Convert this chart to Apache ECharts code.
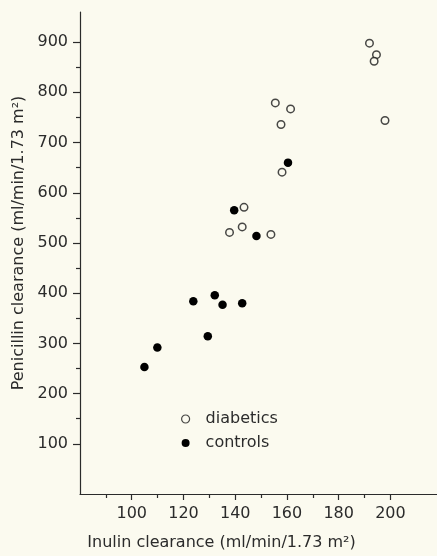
<!DOCTYPE html>
<html>
<head>
<meta charset="utf-8">
<script src="https://cdn.jsdelivr.net/npm/echarts@6/dist/echarts.min.js"></script>
<style>
html, body { margin: 0; padding: 0; background: #fbfaef; }
#main { width: 437px; height: 556px; }
</style>
</head>
<body>
<div id="main"></div>
<script>
// inulin clearance (x) vs penicillin clearance (y), ml/min/1.73 m2
var diabetics = [
	[191.9, 898], [194.6, 875], [193.7, 862],
	[155.5, 779], [161.4, 767], [157.7, 736], [197.9, 744],
	[158.1, 641], [143.4, 571], [142.7, 532], [137.8, 521], [153.8, 517]
];
var controls = [
	[160.4, 660], [139.6, 565], [148.2, 514],
	[123.8, 384], [132.1, 396], [135.1, 377], [142.7, 380],
	[129.4, 314], [109.9, 292], [104.9, 253]
];
var xMajor = [100, 120, 140, 160, 180, 200];
var xMinor = [90, 110, 130, 150, 170, 190];
var yMajor = [100, 200, 300, 400, 500, 600, 700, 800, 900];
var yMinor = [150, 250, 350, 450, 550, 650, 750, 850];

var ink = '#2b2b2b';
var font = 'DejaVu Sans';

var myChart = echarts.init(document.getElementById('main'));

myChart.setOption({
	backgroundColor : '#fbfaef',
	animation : false,
	textStyle : { fontFamily : font, color : ink },
	grid : { left : 80, right : 0, top : 12, bottom : 58 },
	legend : {
		orient : 'vertical',
		left : 176,
		top : 406,
		itemWidth : 8,
		itemHeight : 8,
		itemGap : 8,
		textStyle : { fontFamily : font, fontSize : 16, color : ink, lineHeight : 16, padding : [ 0, 0, 0, 11 ] },
		data : [
			{ name : 'diabetics', itemStyle : { borderWidth : 1.2 } },
			{ name : 'controls' }
		]
	},
	xAxis : [ {
		type : 'value',
		min : 80,
		max : 218,
		name : 'Inulin clearance (ml/min/1.73 m²)',
		nameLocation : 'middle',
		nameGap : 41,
		nameTextStyle : { fontFamily : font, fontSize : 16, color : ink, padding : [ 0, 74, 0, 0 ] },
		axisLine : { lineStyle : { color : ink, width : 1.2 } },
		axisTick : { length : 6, customValues : xMajor, lineStyle : { color : ink, width : 1.2 } },
		axisLabel : { customValues : xMajor, margin : 12, fontFamily : font, fontSize : 16, color : ink },
		splitLine : { show : false }
	}, {
		type : 'value',
		position : 'bottom',
		min : 80,
		max : 218,
		axisLine : { show : false },
		axisTick : { length : 4, customValues : xMinor, lineStyle : { color : ink, width : 1.2 } },
		axisLabel : { show : false },
		splitLine : { show : false }
	} ],
	yAxis : [ {
		type : 'value',
		min : 0,
		max : 960,
		name : 'Penicillin clearance (ml/min/1.73 m²)',
		nameLocation : 'middle',
		nameGap : 53,
		nameTextStyle : { fontFamily : font, fontSize : 16, color : ink, padding : [ 0, 0, 0, 20 ] },
		axisLine : { lineStyle : { color : ink, width : 1.2 } },
		axisTick : { length : 7, customValues : yMajor, lineStyle : { color : ink, width : 1.2 } },
		axisLabel : { customValues : yMajor, margin : 12, fontFamily : font, fontSize : 16, color : ink },
		splitLine : { show : false }
	}, {
		type : 'value',
		position : 'left',
		min : 0,
		max : 960,
		axisLine : { show : false },
		axisTick : { length : 4, customValues : yMinor, lineStyle : { color : ink, width : 1.2 } },
		axisLabel : { show : false },
		splitLine : { show : false }
	} ],
	series : [ {
		name : 'diabetics',
		type : 'scatter',
		symbol : 'circle',
		symbolSize : 7.5,
		itemStyle : { color : '#fbfaef', borderColor : '#1a1a1a', borderWidth : 1.5 },
		data : diabetics
	}, {
		name : 'controls',
		type : 'scatter',
		symbol : 'circle',
		symbolSize : 8.5,
		itemStyle : { color : '#000000', opacity : 1 },
		data : controls
	} ]
});
</script>
</body>
</html>
